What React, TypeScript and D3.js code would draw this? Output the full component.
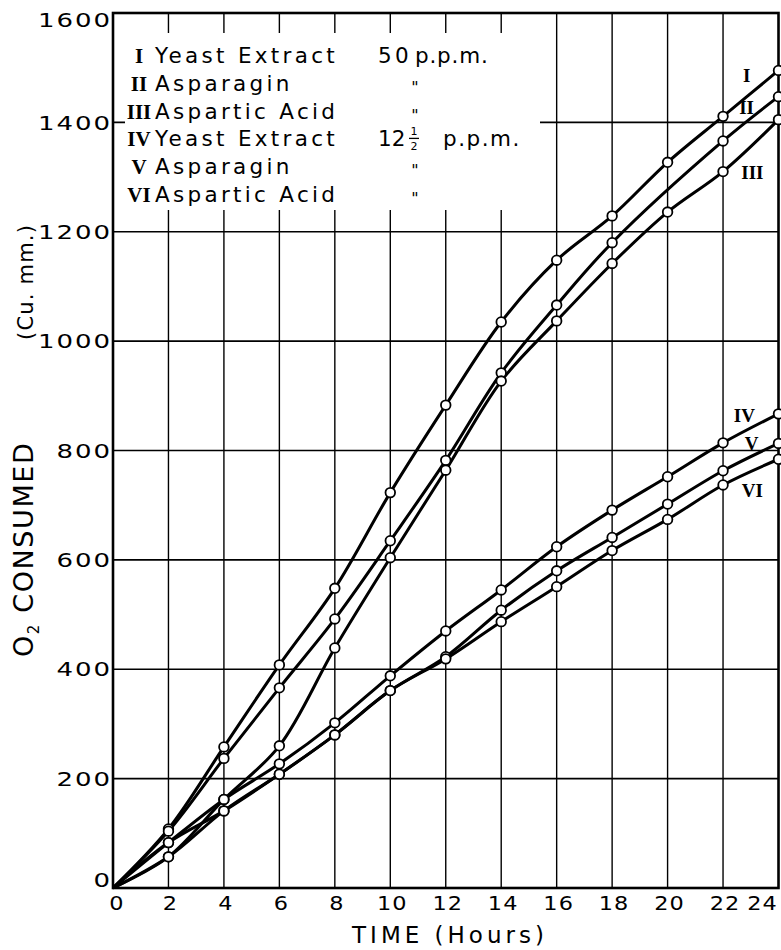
import React from 'react';
import * as d3 from 'd3';

const hours = [0, 2, 4, 6, 8, 10, 12, 14, 16, 18, 20, 22, 24];
const seriesI = [0, 108, 258, 408, 548, 723, 883, 1035, 1148, 1229, 1327, 1411, 1495];
const seriesII = [0, 104, 237, 366, 492, 635, 782, 942, 1066, 1180, null, 1366, 1447];
const seriesIII = [0, 57, 162, 260, 439, 604, 764, 927, 1037, 1142, 1236, 1310, 1405];
const seriesIV = [0, 83, 162, 227, 302, 388, 470, 545, 624, 691, 752, 814, 867];
const seriesV = [0, 83, 141, 208, 280, 361, 423, 508, 580, 641, 702, 763, 813];
const seriesVI = [0, 57, 141, 208, 280, 361, 419, 487, 551, 617, 674, 737, 784];

const numerals = ['I', 'II', 'III', 'IV', 'V', 'VI'];
const substances = ['Yeast Extract', 'Asparagin', 'Aspartic Acid', 'Yeast Extract', 'Asparagin', 'Aspartic Acid'];
const concentrations = ['50', '"', '"', '12', '"', '"'];
// end-label anchors in data units [hours, value]
const endLabelHours = [22.85, 22.85, 23.06, 22.77, 23.03, 23.06];
const endLabelValues = [1474, 1415, 1296, 852, 801, 715];

const xTicks = [0, 2, 4, 6, 8, 10, 12, 14, 16, 18, 20, 22, 24];
const yTicks = [0, 200, 400, 600, 800, 1000, 1200, 1400, 1600];

const W = 781;
const H = 950;
const FONT = '"DejaVu Sans", sans-serif';
const SERIF = '"Liberation Serif", serif';

export default function App() {
  const x = d3.scaleLinear().domain([0, 24]).range([113, 778.5]);
  const y = d3.scaleLinear().domain([0, 1600]).range([888, 13]);

  const allSeries = [seriesI, seriesII, seriesIII, seriesIV, seriesV, seriesVI];
  const line = d3
    .line<[number, number]>()
    .x((d) => x(d[0]))
    .y((d) => y(d[1]))
    .curve(d3.curveCatmullRom.alpha(0.5));

  const pts = allSeries.map((s) =>
    hours.map((h, i) => [h, s[i]] as [number, number | null]).filter((p) => p[1] !== null) as [number, number][]
  );

  const legendBase = 63;
  const legendStep = 27.8;

  return (
    <svg
      width={W}
      height={H}
      style={{ position: 'absolute', left: 0, top: 0, display: 'block', background: '#fff' }}
    >
      <rect x={0} y={0} width={W} height={H} fill="#fff" />
      {/* grid */}
      {xTicks
        .filter((t) => t > 0 && t < 24)
        .map((t) => (
          <line key={'gx' + t} x1={x(t)} x2={x(t)} y1={y(1600)} y2={y(0)} stroke="#000" strokeWidth={1.4} />
        ))}
      {yTicks
        .filter((t) => t > 0 && t < 1600)
        .map((t) => (
          <line key={'gy' + t} x1={x(0)} x2={x(24)} y1={y(t)} y2={y(t)} stroke="#000" strokeWidth={1.6} />
        ))}
      {/* legend mask */}
      <rect x={125} y={33} width={415} height={177} fill="#fff" />
      {/* frame */}
      <rect
        x={x(0)}
        y={y(1600)}
        width={x(24) - x(0)}
        height={y(0) - y(1600)}
        fill="none"
        stroke="#000"
        strokeWidth={2.6}
      />

      {/* curves */}
      {pts.map((p, i) => (
        <path key={'l' + i} d={line(p) || ''} fill="none" stroke="#000" strokeWidth={3} />
      ))}
      {pts.map((p, i) =>
        p
          .filter((d) => d[0] > 0)
          .map((d) => (
            <circle
              key={'c' + i + '-' + d[0]}
              cx={x(d[0])}
              cy={y(d[1])}
              r={4.8}
              fill="#fff"
              stroke="#000"
              strokeWidth={1.8}
            />
          ))
      )}

      {/* end labels */}
      {numerals.map((n, i) => (
        <text
          key={'el' + i}
          x={x(endLabelHours[i])}
          y={y(endLabelValues[i])}
          textAnchor="middle"
          fontFamily={SERIF}
          fontWeight="bold"
          fontSize={19}
        >
          {n}
        </text>
      ))}

      {/* y tick labels */}
      {yTicks.map((t) => {
        const off = t === 1600 ? 7 : t === 0 ? -8 : 0;
        return (
          <text
            key={'yl' + t}
            transform={`translate(112, ${y(t) + off}) scale(1.3,1)`}
            textAnchor="end"
            dy="0.36em"
            fontFamily={FONT}
            fontSize={20}
            letterSpacing={1.5}
          >
            {t}
          </text>
        );
      })}
      {/* x tick labels */}
      {xTicks.map((t) => {
        const off = t === 0 ? 4 : t === 24 ? -16 : 2;
        return (
          <text
            key={'xl' + t}
            transform={`translate(${x(t) + off}, 910) scale(1.12,1)`}
            textAnchor="middle"
            fontFamily={FONT}
            fontSize={20}
            letterSpacing={1}
          >
            {t}
          </text>
        );
      })}

      {/* axis titles */}
      <text x={450} y={943} textAnchor="middle" fontFamily={FONT} fontSize={23} letterSpacing={4}>
        TIME (Hours)
      </text>
      <text transform="translate(33, 657) rotate(-90)" fontFamily={FONT} fontSize={27} letterSpacing={1.6}>
        O<tspan fontSize={15} dy={6}>2</tspan>
        <tspan dy={-6}> CONSUMED</tspan>
      </text>
      <text transform="translate(33, 340) rotate(-90)" fontFamily={FONT} fontSize={21} letterSpacing={1.2}>
        (Cu. mm.)
      </text>

      {/* legend */}
      {numerals.map((n, i) => {
        const by = legendBase + i * legendStep;
        const c = concentrations[i];
        return (
          <g key={'lg' + i}>
            <text x={139} y={by} textAnchor="middle" fontFamily={SERIF} fontWeight="bold" fontSize={21}>
              {n}
            </text>
            <text x={155} y={by} fontFamily={FONT} fontSize={21.5} letterSpacing={3.3}>
              {substances[i]}
            </text>
            {c === '"' ? (
              <text x={415} y={by + 2} textAnchor="middle" fontFamily={FONT} fontSize={16}>
                {'"'}
              </text>
            ) : (
              <g>
                <text x={378} y={by} fontFamily={FONT} fontSize={21.5} letterSpacing={c === '12' ? 0 : 3.3}>
                  {c}
                </text>
                {c === '12' ? (
                  <g>
                    <text x={414} y={by - 11} textAnchor="middle" fontFamily={FONT} fontSize={11}>
                      1
                    </text>
                    <line x1={409} x2={419} y1={by - 8} y2={by - 8} stroke="#000" strokeWidth={1.3} />
                    <text x={414} y={by + 4} textAnchor="middle" fontFamily={FONT} fontSize={11}>
                      2
                    </text>
                    <text x={443} y={by} fontFamily={FONT} fontSize={21.5} letterSpacing={1.5}>
                      p.p.m.
                    </text>
                  </g>
                ) : (
                  <text x={415} y={by} fontFamily={FONT} fontSize={21.5} letterSpacing={0.8}>
                    p.p.m.
                  </text>
                )}
              </g>
            )}
          </g>
        );
      })}
    </svg>
  );
}
